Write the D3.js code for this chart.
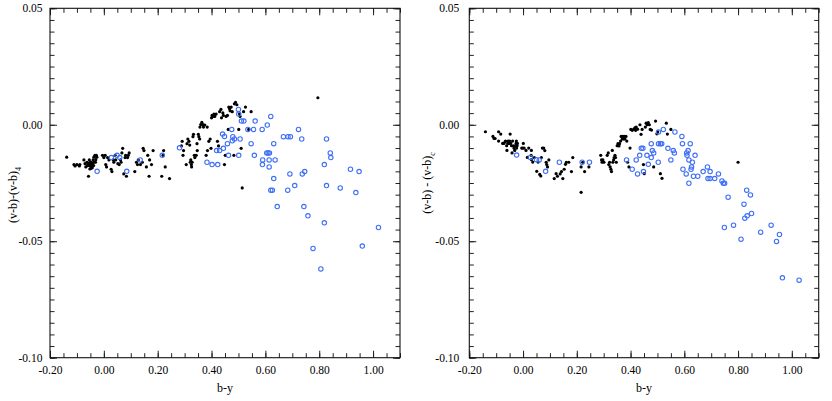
<!DOCTYPE html>
<html>
<head>
<meta charset="utf-8">
<script src="https://cdn.jsdelivr.net/npm/d3@7"></script>
<style>
  body { margin: 0; background: #fff; }
  svg text { font-family: "Liberation Serif", "DejaVu Serif", serif; fill: #000; }
</style>
</head>
<body>
<svg id="chart" width="832" height="401"></svg>
<script>
// tick values
const xMajor = [-0.2, 0.0, 0.2, 0.4, 0.6, 0.8, 1.0];
const yMajor = [0.05, 0.0, -0.05, -0.10];

// left panel: (v-b)-(v-b)4 vs b-y
const leftBlack = [
  [-0.138,-0.0139],[-0.111,-0.0171],[-0.107,-0.0177],[-0.100,-0.0171],[-0.091,-0.0177],[-0.089,-0.0171],
  [-0.074,-0.0151],[-0.070,-0.0167],[-0.067,-0.0181],[-0.063,-0.0161],[-0.059,-0.0171],[-0.057,-0.0221],
  [-0.054,-0.0151],[-0.051,-0.0177],[-0.048,-0.0187],[-0.046,-0.0161],[-0.042,-0.0167],[-0.040,-0.0151],
  [-0.037,-0.0139],[-0.033,-0.0131],[-0.031,-0.0161],[-0.028,-0.0131],[-0.026,-0.0139],
  [-0.055,-0.0165],[-0.050,-0.0160],[-0.045,-0.0180],[-0.052,-0.0190],[-0.047,-0.0170],[-0.043,-0.0185],
  [-0.060,-0.0175],[-0.038,-0.0175],[-0.035,-0.0160],[-0.030,-0.0150],
  [-0.005,-0.0131],[0.000,-0.0141],[0.005,-0.0131],[0.007,-0.0171],[0.010,-0.0181],[0.014,-0.0141],
  [0.019,-0.0151],[0.027,-0.0191],[0.030,-0.0201],[0.035,-0.0151],[0.037,-0.0161],[0.042,-0.0131],
  [0.044,-0.0151],[0.052,-0.0167],[0.057,-0.0171],[0.062,-0.0151],[0.064,-0.0161],[0.067,-0.0121],
  [0.070,-0.0101],[0.074,-0.0211],[0.079,-0.0141],[0.081,-0.0131],[0.084,-0.0221],[0.088,-0.0141],
  [0.091,-0.0131],[0.094,-0.0121],
  [0.115,-0.0201],[0.121,-0.0161],[0.125,-0.0171],[0.128,-0.0151],[0.136,-0.0171],[0.143,-0.0161],
  [0.146,-0.0101],[0.149,-0.0111],[0.158,-0.0181],[0.163,-0.0131],[0.168,-0.0221],[0.170,-0.0151],
  [0.177,-0.0171],[0.183,-0.0111],[0.215,-0.0221],[0.220,-0.0131],[0.222,-0.0111],[0.228,-0.0181],
  [0.244,-0.0231],
  [0.288,-0.0091],[0.291,-0.0071],[0.294,-0.0131],[0.296,-0.0111],[0.306,-0.0171],[0.309,-0.0081],
  [0.312,-0.0061],[0.316,-0.0071],[0.319,-0.0087],[0.321,-0.0161],[0.323,-0.0151],[0.325,-0.0171],
  [0.326,-0.0181],[0.328,-0.0161],[0.331,-0.0051],[0.333,-0.0041],[0.336,-0.0131],[0.338,-0.0141],
  [0.343,-0.0131],[0.346,-0.0081],[0.347,-0.0111],[0.351,-0.0041],[0.353,-0.0051],[0.356,-0.0061],
  [0.357,-0.0010],[0.360,0.0001],[0.364,0.0010],[0.368,0.0001],[0.370,-0.0010],[0.375,-0.0001],
  [0.380,-0.0131],[0.384,-0.0010],[0.385,-0.0111],[0.390,-0.0071],[0.395,-0.0061],[0.398,-0.0101],
  [0.400,0.0030],[0.402,0.0040],[0.405,0.0036],[0.409,0.0046],[0.412,0.0036],[0.417,0.0046],
  [0.422,-0.0071],[0.426,-0.0091],[0.430,0.0056],[0.435,0.0066],[0.437,0.0030],[0.442,0.0051],
  [0.444,0.0040],[0.448,-0.0171],[0.451,-0.0131],[0.454,0.0036],[0.459,0.0040],[0.462,-0.0020],
  [0.464,0.0076],[0.467,0.0069],[0.469,0.0060],[0.473,0.0076],[0.477,0.0056],[0.483,-0.0131],
  [0.485,0.0090],[0.489,0.0096],[0.494,0.0086],[0.501,-0.0020],[0.504,0.0046],[0.506,0.0036],
  [0.510,-0.0101],[0.514,-0.0271],[0.519,0.0056],[0.526,0.0076],[0.538,-0.0020],[0.547,0.0056],
  [0.795,0.0116]
];
const leftBlue = [
  [-0.025,-0.0200],[0.028,-0.0141],[0.049,-0.0131],[0.059,-0.0141],[0.085,-0.0200],[0.135,-0.0151],
  [0.217,-0.0131],[0.281,-0.0099],[0.383,-0.0161],[0.402,-0.0171],[0.423,-0.0171],[0.419,-0.0111],
  [0.430,-0.0111],[0.441,-0.0040],[0.444,-0.0101],[0.448,-0.0050],[0.459,-0.0081],[0.463,-0.0131],
  [0.475,-0.0020],[0.477,-0.0069],[0.479,-0.0051],[0.485,-0.0061],[0.501,-0.0131],[0.500,0.0066],
  [0.501,0.0046],[0.506,-0.0061],[0.511,0.0016],[0.520,0.0016],[0.535,-0.0020],[0.547,-0.0081],
  [0.556,-0.0020],[0.559,-0.0131],[0.562,0.0016],[0.588,-0.0020],[0.590,-0.0151],[0.589,-0.0171],
  [0.607,-0.0001],[0.605,-0.0121],[0.610,-0.0121],[0.615,-0.0121],[0.614,-0.0151],[0.614,-0.0181],
  [0.620,0.0036],[0.620,-0.0281],[0.626,-0.0281],[0.631,-0.0081],[0.631,-0.0231],[0.636,-0.0151],
  [0.644,-0.0351],[0.667,-0.0051],[0.683,-0.0281],[0.684,-0.0051],[0.693,-0.0051],[0.691,-0.0211],
  [0.709,-0.0261],[0.723,-0.0020],[0.735,-0.0061],[0.737,-0.0211],[0.743,-0.0351],[0.746,-0.0201],
  [0.758,-0.0391],[0.777,-0.0531],[0.806,-0.0619],[0.819,-0.0171],[0.819,-0.0421],[0.827,-0.0061],
  [0.827,-0.0261],[0.841,-0.0121],[0.843,-0.0141],[0.878,-0.0271],[0.916,-0.0191],[0.936,-0.0291],
  [0.948,-0.0201],[0.960,-0.0521],[1.020,-0.0441]
];

// right panel: (v-b) - (v-b)c vs b-y
const rightBlack = [
  [-0.140,-0.0030],[-0.112,-0.0050],[-0.108,-0.0059],[-0.104,-0.0059],[-0.091,-0.0030],[-0.091,-0.0070],
  [-0.083,-0.0040],[-0.076,-0.0080],[-0.071,-0.0080],[-0.067,-0.0073],[-0.065,-0.0070],[-0.061,-0.0090],
  [-0.060,-0.0110],[-0.057,-0.0080],[-0.055,-0.0070],[-0.052,-0.0080],[-0.050,-0.0070],[-0.048,-0.0040],
  [-0.046,-0.0080],[-0.043,-0.0090],[-0.041,-0.0121],[-0.039,-0.0070],[-0.036,-0.0090],[-0.034,-0.0100],
  [-0.031,-0.0110],[-0.029,-0.0090],[-0.026,-0.0080],[-0.025,-0.0070],[-0.024,-0.0100],[-0.022,-0.0090],
  [-0.021,-0.0080],[-0.005,-0.0100],[-0.001,-0.0100],[0.001,-0.0080],[0.004,-0.0100],[0.011,-0.0110],
  [0.016,-0.0140],[0.021,-0.0100],[0.030,-0.0131],[0.031,-0.0110],[0.031,-0.0150],[0.036,-0.0160],
  [0.042,-0.0141],[0.051,-0.0200],[0.056,-0.0160],[0.062,-0.0213],[0.066,-0.0220],[0.068,-0.0141],
  [0.072,-0.0100],[0.077,-0.0100],[0.081,-0.0111],[0.086,-0.0161],[0.088,-0.0171],[0.091,-0.0181],
  [0.096,-0.0151],[0.116,-0.0231],[0.123,-0.0210],[0.128,-0.0221],[0.138,-0.0211],[0.143,-0.0201],
  [0.148,-0.0231],[0.153,-0.0191],[0.158,-0.0170],[0.161,-0.0161],[0.170,-0.0161],[0.180,-0.0201],
  [0.185,-0.0141],[0.216,-0.0290],[0.216,-0.0181],[0.222,-0.0161],[0.229,-0.0201],[0.245,-0.0181],
  [0.289,-0.0131],[0.292,-0.0151],[0.294,-0.0161],[0.297,-0.0151],[0.301,-0.0161],[0.313,-0.0131],
  [0.317,-0.0121],[0.319,-0.0171],[0.322,-0.0161],[0.324,-0.0181],[0.327,-0.0191],[0.329,-0.0201],
  [0.332,-0.0110],[0.334,-0.0161],[0.337,-0.0151],[0.339,-0.0141],[0.342,-0.0131],[0.344,-0.0141],
  [0.347,-0.0161],[0.350,-0.0090],[0.353,-0.0081],[0.357,-0.0091],[0.359,-0.0081],[0.363,-0.0070],
  [0.365,-0.0050],[0.369,-0.0061],[0.371,-0.0050],[0.374,-0.0061],[0.376,-0.0050],[0.379,-0.0061],
  [0.383,-0.0050],[0.386,-0.0070],[0.389,-0.0161],[0.394,-0.0181],[0.398,-0.0100],[0.401,-0.0020],
  [0.406,-0.0024],[0.411,-0.0020],[0.416,-0.0013],[0.419,-0.0024],[0.421,-0.0010],[0.426,-0.0019],
  [0.435,0.0000],[0.439,-0.0041],[0.443,-0.0020],[0.448,-0.0171],[0.451,-0.0210],[0.455,-0.0010],
  [0.458,0.0007],[0.462,0.0000],[0.466,0.0009],[0.470,0.0000],[0.473,-0.0020],[0.478,-0.0023],
  [0.486,-0.0181],[0.493,0.0016],[0.498,-0.0039],[0.501,-0.0030],[0.511,-0.0210],[0.517,-0.0230],
  [0.533,0.0007],[0.537,-0.0040],[0.550,-0.0020],[0.800,-0.0161]
];
const rightBlue = [
  [-0.024,-0.0130],[0.027,-0.0140],[0.050,-0.0150],[0.060,-0.0151],[0.084,-0.0200],[0.135,-0.0161],
  [0.220,-0.0161],[0.247,-0.0161],[0.385,-0.0151],[0.406,-0.0191],[0.421,-0.0151],[0.426,-0.0211],
  [0.434,-0.0131],[0.440,-0.0101],[0.446,-0.0101],[0.448,-0.0201],[0.461,-0.0131],[0.466,-0.0170],
  [0.477,-0.0141],[0.477,-0.0081],[0.481,-0.0111],[0.486,-0.0121],[0.503,-0.0161],[0.504,-0.0031],
  [0.504,-0.0081],[0.511,-0.0081],[0.516,-0.0081],[0.522,-0.0020],[0.539,-0.0101],[0.550,-0.0151],
  [0.559,-0.0111],[0.563,-0.0121],[0.565,-0.0031],[0.591,-0.0050],[0.593,-0.0081],[0.595,-0.0191],
  [0.607,-0.0211],[0.609,-0.0121],[0.610,-0.0131],[0.614,-0.0111],[0.617,-0.0151],[0.617,-0.0251],
  [0.622,-0.0081],[0.625,-0.0191],[0.627,-0.0181],[0.630,-0.0161],[0.634,-0.0221],[0.640,-0.0131],
  [0.650,-0.0221],[0.670,-0.0201],[0.686,-0.0181],[0.688,-0.0231],[0.696,-0.0201],[0.696,-0.0231],
  [0.713,-0.0231],[0.727,-0.0211],[0.740,-0.0241],[0.745,-0.0251],[0.750,-0.0251],[0.763,-0.0311],
  [0.749,-0.0441],[0.783,-0.0431],[0.811,-0.0491],[0.822,-0.0341],[0.825,-0.0401],[0.832,-0.0281],
  [0.834,-0.0391],[0.846,-0.0301],[0.850,-0.0381],[0.884,-0.0461],[0.923,-0.0431],[0.943,-0.0501],
  [0.954,-0.0471],[0.965,-0.0657],[1.027,-0.0667]
];

const svg = d3.select('#chart');
const fmt = d => d.toFixed(2);

function panel(left, right, black, blue, titleParts, titleX, titleY, yPad) {
    const top = 8.3, bottom = 357.7;
    const x = d3.scaleLinear().domain([-0.2, 1.1]).range([left, right]);
    const y = d3.scaleLinear().domain([-0.10, 0.05]).range([bottom, top]);
    const xMinor = d3.range(-0.2, 1.1001, 0.05);
    const yMinor = d3.range(-0.10, 0.0501, 0.005);
    const g = svg.append('g');

    // minor ticks, all four sides, pointing inward
    const minor = [
        [d3.axisBottom(x).tickValues(xMinor), `translate(0,${bottom})`],
        [d3.axisTop(x).tickValues(xMinor), `translate(0,${top})`],
        [d3.axisLeft(y).tickValues(yMinor), `translate(${left},0)`],
        [d3.axisRight(y).tickValues(yMinor), `translate(${right},0)`]
    ];
    minor.forEach(([ax, tr]) => {
        g.append('g').attr('transform', tr)
            .call(ax.tickSize(-4.5).tickFormat(''))
            .call(s => s.select('.domain').remove());
    });
    // major ticks
    g.append('g').attr('transform', `translate(0,${bottom})`)
        .call(d3.axisBottom(x).tickValues(xMajor).tickSize(-7).tickPadding(8).tickFormat(fmt));
    g.append('g').attr('transform', `translate(0,${top})`)
        .call(d3.axisTop(x).tickValues(xMajor).tickSize(-7).tickFormat(''));
    g.append('g').attr('transform', `translate(${left},0)`)
        .call(d3.axisLeft(y).tickValues(yMajor).tickSize(-7).tickPadding(yPad).tickFormat(fmt));
    g.append('g').attr('transform', `translate(${right},0)`)
        .call(d3.axisRight(y).tickValues(yMajor).tickSize(-7).tickFormat(''));
    g.selectAll('.tick text').attr('font-size', 11.5)
        .attr('font-family', '"Liberation Serif", "DejaVu Serif", serif');
    g.selectAll('.domain').remove();
    g.selectAll('.tick line').attr('stroke', '#222').attr('stroke-width', 1);

    // frame
    g.append('rect').attr('x', left).attr('y', top)
        .attr('width', right - left).attr('height', bottom - top)
        .attr('fill', 'none').attr('stroke', '#111').attr('stroke-width', 1.1);

    // black filled dots
    g.append('g').selectAll('circle').data(black).join('circle')
        .attr('cx', d => x(d[0])).attr('cy', d => y(d[1]))
        .attr('r', 1.6).attr('fill', '#000');
    // blue open circles
    g.append('g').selectAll('circle').data(blue).join('circle')
        .attr('cx', d => x(d[0])).attr('cy', d => y(d[1]))
        .attr('r', 2.2).attr('fill', 'none')
        .attr('stroke', '#3f6ff5').attr('stroke-width', 1.1);

    // axis titles
    g.append('text').attr('x', (left + right) / 2).attr('y', 392)
        .attr('text-anchor', 'middle').attr('font-size', 12).text('b-y');
    const t = g.append('text')
        .attr('transform', `translate(${titleX},${titleY}) rotate(-90)`)
        .attr('text-anchor', 'middle').attr('font-size', 12);
    t.append('tspan').text(titleParts[0]);
    t.append('tspan').attr('font-size', 8).attr('dy', 4).text(titleParts[1]);
}

panel(50, 400, leftBlack, leftBlue, ['(v-b)-(v-b)', '4'], 17, 195, 7.5);
panel(469.3, 818.7, rightBlack, rightBlue, ['(v-b) - (v-b)', 'c'], 431, 183, 10);
</script>
</body>
</html>
